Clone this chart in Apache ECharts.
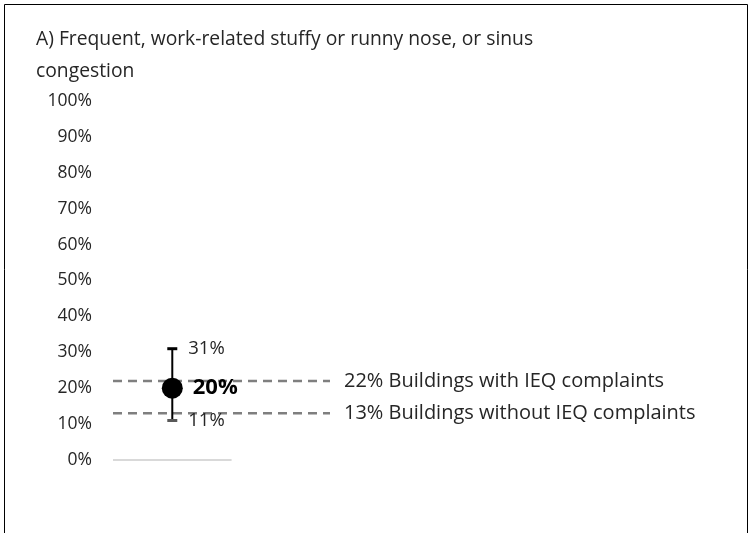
<!DOCTYPE html>
<html>
<head>
<meta charset="utf-8">
<script src="https://cdn.jsdelivr.net/npm/echarts@6/dist/echarts.min.js"></script>
<style>
html, body { margin: 0; padding: 0; background: #fff; }
#chart { width: 755px; height: 533px; }
</style>
</head>
<body>
<div id="chart"></div>
<script>
var chart = echarts.init(document.getElementById('chart'));

// values (percent)
var yTicks = [0, 10, 20, 30, 40, 50, 60, 70, 80, 90, 100];
var pointValue = 20;
var lowerValue = 11;
var upperValue = 31;
var refLines = [
    { value: 22, name: '22% Buildings with IEQ complaints' },
    { value: 13, name: '13% Buildings without IEQ complaints' }
];

var font = 'Open Sans';
var textColor = '#262626';

var refSeries = refLines.map(function (r) {
    return {
        type: 'line',
        data: [[0, r.value], [1.83, r.value]],
        symbol: 'none',
        silent: true,
        z: 1,
        lineStyle: { color: '#7f7f7f', width: 2.5, type: [9, 6] },
        endLabel: {
            show: true,
            formatter: r.name,
            distance: 14,
            color: textColor,
            fontSize: 20,
            fontFamily: font
        }
    };
});

option = {
    animation: false,
    title: {
        text: 'A) Frequent, work-related stuffy or runny nose, or sinus\ncongestion',
        left: 31,
        top: 19,
        textStyle: {
            fontSize: 19.3,
            fontWeight: 'normal',
            color: textColor,
            fontFamily: font,
            lineHeight: 32
        }
    },
    graphic: [{
        type: 'rect',
        shape: { x: 4.5, y: 4.5, width: 743, height: 540 },
        style: { fill: null, stroke: '#000', lineWidth: 1 },
        silent: true
    }],
    grid: { left: 113, width: 217, top: 101, bottom: 73 },
    xAxis: {
        type: 'value',
        min: 0,
        max: 1.83,
        axisLine: { show: false },
        axisTick: { show: false },
        axisLabel: { show: false },
        splitLine: { show: false }
    },
    yAxis: {
        type: 'value',
        min: yTicks[0],
        max: yTicks[yTicks.length - 1],
        interval: 10,
        axisLine: { show: false },
        axisTick: { show: false },
        splitLine: { show: false },
        axisLabel: {
            formatter: '{value}%',
            margin: 21,
            fontSize: 17.5,
            color: textColor,
            fontFamily: font
        }
    },
    series: refSeries.concat([
        {
            // category baseline
            type: 'line',
            data: [[0, 0], [1, 0]],
            symbol: 'none',
            silent: true,
            z: 0,
            lineStyle: { color: '#d9d9d9', width: 2 }
        },
        {
            // error bar
            type: 'custom',
            z: 3,
            data: [[0.5, lowerValue, upperValue]],
            renderItem: function (params, api) {
                var lo = api.coord([api.value(0), api.value(1)]);
                var hi = api.coord([api.value(0), api.value(2)]);
                var w = 5;
                return {
                    type: 'group',
                    children: [
                        { type: 'line', shape: { x1: hi[0], y1: hi[1], x2: lo[0], y2: lo[1] },
                          style: { stroke: '#000', lineWidth: 2 } },
                        { type: 'line', shape: { x1: hi[0] - w, y1: hi[1], x2: hi[0] + w, y2: hi[1] },
                          style: { stroke: '#000', lineWidth: 3 } },
                        { type: 'line', shape: { x1: lo[0] - w, y1: lo[1], x2: lo[0] + w, y2: lo[1] },
                          style: { stroke: '#595959', lineWidth: 3 } }
                    ]
                };
            }
        },
        {
            type: 'scatter',
            z: 4,
            data: [[0.5, upperValue], [0.5, lowerValue]],
            symbolSize: 0,
            itemStyle: { opacity: 1 },
            label: {
                show: true,
                position: 'right',
                distance: 16,
                formatter: function (p) { return p.value[1] + '%'; },
                fontSize: 18.5,
                color: textColor,
                fontFamily: font
            }
        },
        {
            type: 'scatter',
            z: 5,
            data: [[0.5, pointValue]],
            symbol: 'circle',
            symbolSize: 21,
            itemStyle: { color: '#000', opacity: 1 },
            label: {
                show: true,
                position: 'right',
                distance: 10,
                formatter: function (p) { return p.value[1] + '%'; },
                fontSize: 22,
                fontWeight: 'bold',
                color: '#000',
                fontFamily: font
            }
        }
    ])
};

chart.setOption(option);
</script>
</body>
</html>
